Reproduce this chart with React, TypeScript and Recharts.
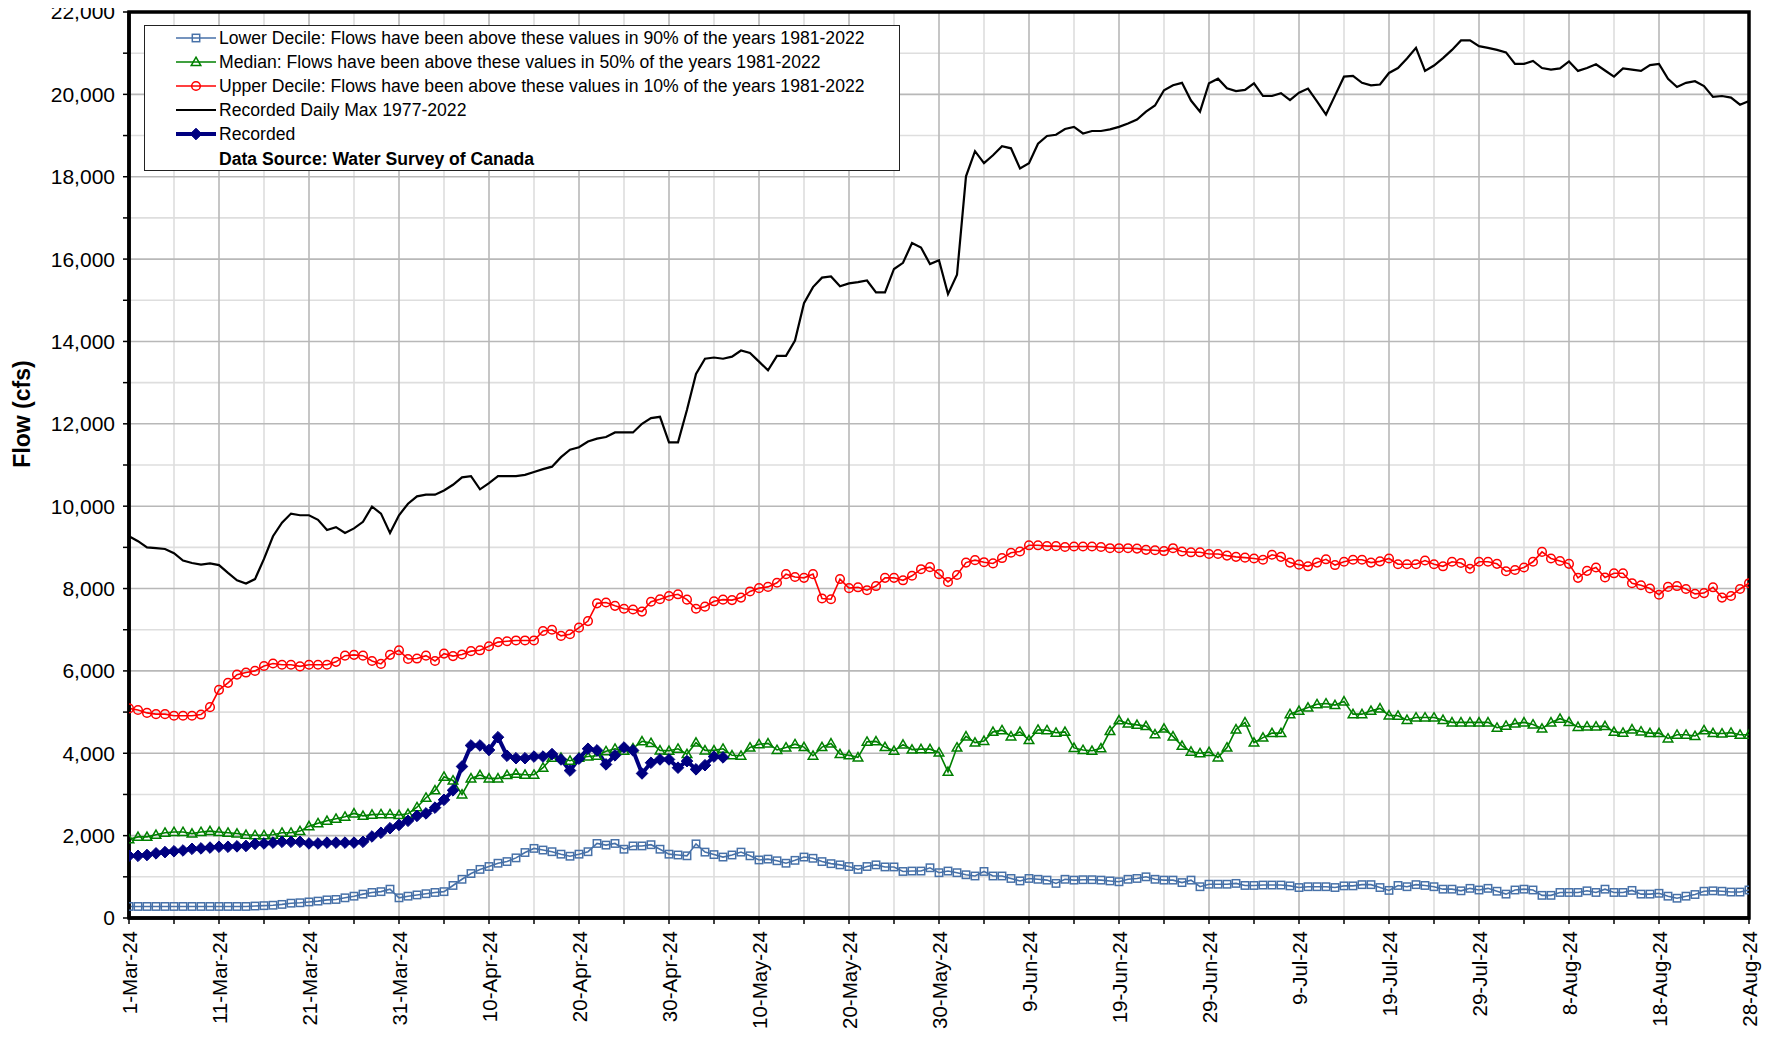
import React from 'react';
import { LineChart, Line, XAxis, YAxis, CartesianGrid, ReferenceArea, Legend } from 'recharts';

const FONT = '"Liberation Sans", Arial, Helvetica, sans-serif';

// x axis: day index from 1-Mar-24
const tickDays = [0, 5, 10, 15, 20, 25, 30, 35, 40, 45, 50, 55, 60, 65, 70, 75, 80, 85, 90, 95, 100, 105, 110, 115, 120, 125, 130, 135, 140, 145, 150, 155, 160, 165, 170, 175, 180];
const tickLabels = ['1-Mar-24', '11-Mar-24', '21-Mar-24', '31-Mar-24', '10-Apr-24', '20-Apr-24', '30-Apr-24', '10-May-24', '20-May-24', '30-May-24', '9-Jun-24', '19-Jun-24', '29-Jun-24', '9-Jul-24', '19-Jul-24', '29-Jul-24', '8-Aug-24', '18-Aug-24', '28-Aug-24'];
const yTicks = [0, 1000, 2000, 3000, 4000, 5000, 6000, 7000, 8000, 9000, 10000, 11000, 12000, 13000, 14000, 15000, 16000, 17000, 18000, 19000, 20000, 21000, 22000];

const lowerDecile = [
  280, 280, 280, 280, 280, 280, 280, 280, 280, 280,
  280, 280, 280, 280, 290, 300, 310, 330, 360, 370,
  390, 410, 440, 450, 490, 530, 580, 620, 640, 700,
  490, 530, 560, 590, 620, 640, 790, 940, 1080, 1180,
  1250, 1330, 1370, 1460, 1590, 1690, 1650, 1610, 1550, 1500,
  1550, 1610, 1810, 1770, 1810, 1670, 1750, 1750, 1780, 1670,
  1550, 1530, 1510, 1800, 1600, 1540, 1480, 1530, 1600, 1510,
  1410, 1430, 1390, 1330, 1400, 1480, 1450, 1370, 1320, 1290,
  1250, 1180, 1250, 1290, 1240, 1240, 1130, 1140, 1140, 1220,
  1100, 1140, 1100, 1050, 1020, 1130, 1020, 1020, 960, 900,
  960, 940, 920, 840, 940, 920, 930, 930, 920, 900,
  880, 940, 960, 1000, 940, 920, 920, 860, 920, 760,
  820, 820, 820, 840, 790, 790, 800, 800, 800, 780,
  740, 760, 760, 760, 740, 780, 780, 810, 810, 740,
  670, 790, 760, 810, 790, 760, 700, 700, 660, 720,
  680, 720, 650, 580, 680, 700, 680, 550, 550, 620,
  620, 620, 660, 620, 700, 620, 620, 670, 580, 580,
  600, 530, 480, 530, 570, 650, 660, 650, 630, 630,
  680,
];

const median = [
  1910, 1970, 1970, 2020, 2070, 2090, 2090, 2050, 2090, 2110,
  2090, 2070, 2050, 2020, 2010, 2010, 2020, 2070, 2070, 2110,
  2230, 2300, 2360, 2410, 2460, 2540, 2480, 2510, 2520, 2520,
  2500, 2530, 2690, 2920, 3100, 3430, 3340, 3000, 3390, 3470,
  3390, 3390, 3470, 3500, 3480, 3480, 3650, 3890, 3890, 3820,
  3890, 3920, 3940, 4050, 4110, 4060, 4120, 4290, 4250, 4070,
  4060, 4110, 3980, 4260, 4070, 4070, 4110, 3950, 3940, 4140,
  4220, 4240, 4080, 4140, 4220, 4150, 3940, 4150, 4240, 3980,
  3950, 3900, 4280, 4290, 4150, 4060, 4210, 4090, 4100, 4100,
  4020, 3550, 4140, 4410, 4260, 4300, 4520, 4560, 4410, 4520,
  4320, 4570, 4560, 4500, 4520, 4130, 4080, 4060, 4120, 4540,
  4800, 4720, 4690, 4660, 4460, 4600, 4410, 4180, 4040, 4000,
  4030, 3900, 4140, 4580, 4750, 4260, 4380, 4490, 4490, 4950,
  5030, 5110, 5190, 5210, 5170, 5260, 4950, 4950, 5030, 5090,
  4920, 4910, 4810, 4870, 4870, 4870, 4810, 4750, 4750, 4750,
  4750, 4750, 4620, 4670, 4720, 4750, 4700, 4600, 4750, 4840,
  4760, 4640, 4650, 4650, 4660, 4520, 4500, 4580, 4530, 4490,
  4490, 4360, 4450, 4450, 4420, 4560, 4490, 4480, 4500, 4450,
  4450,
];

const upperDecile = [
  5090, 5050, 4980, 4950, 4950, 4910, 4910, 4910, 4940, 5120,
  5540, 5710, 5910, 5960, 6000, 6120, 6180, 6150, 6150, 6110,
  6150, 6150, 6150, 6220, 6370, 6390, 6370, 6240, 6170, 6390,
  6500, 6290, 6300, 6370, 6240, 6420, 6360, 6400, 6480, 6500,
  6600, 6700, 6720, 6740, 6740, 6740, 6970, 7000, 6850, 6890,
  7050, 7210, 7640, 7660, 7580, 7510, 7490, 7440, 7680, 7740,
  7820, 7860, 7730, 7510, 7560, 7690, 7730, 7720, 7780, 7930,
  8010, 8040, 8140, 8350, 8280, 8260, 8350, 7760, 7740, 8230,
  8010, 8030, 7960, 8060, 8260, 8260, 8200, 8310, 8470, 8520,
  8350, 8160, 8330, 8630, 8690, 8640, 8610, 8740, 8870, 8900,
  9050, 9050, 9030, 9030, 9010, 9020, 9020, 9020, 9010, 8980,
  8980, 8980, 8970, 8940, 8930, 8910, 8980, 8900, 8880, 8880,
  8840, 8840, 8800, 8770, 8750, 8730, 8700, 8820, 8770, 8630,
  8580, 8540, 8630, 8710, 8570, 8650, 8700, 8700, 8630, 8660,
  8730, 8590, 8590, 8590, 8680, 8590, 8540, 8650, 8620, 8480,
  8650, 8650, 8600, 8420, 8450, 8510, 8650, 8890, 8730, 8670,
  8600, 8260, 8430, 8510, 8270, 8370, 8370, 8130, 8080, 8000,
  7850, 8040, 8060, 7990, 7870, 7890, 8030, 7780, 7820, 7990,
  8130,
];

const dailyMax = [
  9270, 9150, 9000, 8980, 8960, 8860, 8680, 8620, 8580, 8610,
  8570, 8380, 8200, 8120, 8230, 8720, 9270, 9600, 9820, 9780,
  9780, 9670, 9420, 9490, 9350, 9460, 9620, 9990, 9820, 9350,
  9780, 10060, 10240, 10280, 10280, 10380, 10520, 10700, 10730, 10410,
  10560, 10730, 10730, 10730, 10760, 10830, 10900, 10960, 11190, 11370,
  11430, 11570, 11640, 11680, 11790, 11790, 11790, 12000, 12140, 12170,
  11550, 11550, 12340, 13210, 13580, 13610, 13580, 13630, 13780, 13720,
  13510, 13300, 13650, 13650, 14020, 14930, 15320, 15550, 15580, 15340,
  15410, 15440, 15480, 15190, 15190, 15760, 15910, 16390, 16280, 15880,
  15970, 15150, 15620, 18010, 18620, 18330, 18520, 18740, 18690, 18200,
  18330, 18800, 18990, 19020, 19160, 19210, 19050, 19110, 19110, 19150,
  19210, 19290, 19390, 19580, 19730, 20100, 20220, 20280, 19850, 19580,
  20270, 20380, 20150, 20080, 20110, 20270, 19960, 19960, 20030, 19860,
  20040, 20140, 19830, 19510, 19970, 20430, 20450, 20280, 20220, 20240,
  20520, 20640, 20870, 21130, 20570, 20700, 20880, 21080, 21310, 21310,
  21170, 21130, 21080, 21020, 20740, 20740, 20810, 20640, 20600, 20630,
  20800, 20570, 20640, 20730, 20580, 20430, 20630, 20600, 20570, 20710,
  20740, 20380, 20180, 20280, 20320, 20200, 19940, 19960, 19920, 19750,
  19840,
];

const recorded = [
  1510, 1510, 1530, 1570, 1600, 1620, 1640, 1680, 1690, 1710,
  1730, 1730, 1740, 1750, 1800, 1810, 1830, 1850, 1850, 1850,
  1810, 1810, 1830, 1830, 1830, 1830, 1850, 1980, 2070, 2180,
  2260, 2360, 2480, 2540, 2680, 2870, 3100, 3680, 4190, 4190,
  4080, 4390, 3940, 3880, 3880, 3920, 3920, 3980, 3850, 3580,
  3870, 4110, 4070, 3730, 3950, 4140, 4070, 3510, 3770, 3850,
  3850, 3650, 3810, 3610, 3710, 3920, 3900,
];

const data = lowerDecile.map((v, i) => ({
  day: i,
  lower: v,
  median: median[i],
  upper: upperDecile[i],
  max: dailyMax[i],
  recorded: i < recorded.length ? recorded[i] : null,
}));

const lightX = tickDays.filter((d) => d % 10 === 5);
const darkX = tickDays.filter((d) => d % 10 === 0 && d > 0 && d < 180);
const lightY = yTicks.filter((v) => v % 2000 === 1000);
const darkY = yTicks.filter((v) => v % 2000 === 0 && v > 0 && v < 22000);

const C_LOWER = '#4771A8';
const C_MEDIAN = '#008000';
const C_UPPER = '#FF0000';
const C_MAX = '#000000';
const C_REC = '#000080';

const squareShape = (cx: number, cy: number, key?: any) => (
  <rect key={key} x={cx - 3.7} y={cy - 3.7} width={7.4} height={7.4} fill="none" stroke={C_LOWER} strokeWidth={1.5} />
);
const triShape = (cx: number, cy: number, key?: any) => (
  <polygon key={key} points={`${cx},${cy - 4.8} ${cx + 4.8},${cy + 3.5} ${cx - 4.8},${cy + 3.5}`} fill="none" stroke={C_MEDIAN} strokeWidth={1.5} />
);
const circShape = (cx: number, cy: number, key?: any) => (
  <circle key={key} cx={cx} cy={cy} r={4.3} fill="none" stroke={C_UPPER} strokeWidth={1.5} />
);
const diaShape = (cx: number, cy: number, key?: any) => (
  <polygon key={key} points={`${cx},${cy - 5.8} ${cx + 5.8},${cy} ${cx},${cy + 5.8} ${cx - 5.8},${cy}`} fill={C_REC} stroke={C_REC} strokeWidth={1} />
);

const mkDot = (shape: (cx: number, cy: number, key?: any) => any) => (props: any) => {
  const { cx, cy, index } = props;
  if (cx == null || cy == null || props.value == null) return <g key={`e-${index}`} />;
  return shape(cx, cy, `d-${index}`);
};

const legendItems = [
  { label: 'Lower Decile: Flows have been above these values in 90% of the years 1981-2022', color: C_LOWER, w: 1.5, shape: squareShape },
  { label: 'Median: Flows have been above these values in 50% of the years 1981-2022', color: C_MEDIAN, w: 1.5, shape: triShape },
  { label: 'Upper Decile: Flows have been above these values in 10% of the years 1981-2022', color: C_UPPER, w: 1.5, shape: circShape },
  { label: 'Recorded Daily Max 1977-2022', color: C_MAX, w: 2.2, shape: null },
  { label: 'Recorded', color: C_REC, w: 4, shape: diaShape },
];

const renderLegend = () => (
  <div
    style={{
      width: 756,
      height: 146,
      boxSizing: 'border-box',
      border: '1px solid #222',
      background: '#fff',
      position: 'relative',
      fontFamily: FONT,
      fontSize: 17.6,
      color: '#000',
    }}
  >
    {legendItems.map((it, i) => (
      <div key={i} style={{ position: 'absolute', left: 0, top: -0.5 + i * 24.2, height: 24, display: 'flex', alignItems: 'center', whiteSpace: 'nowrap' }}>
        <svg width={72} height={24} style={{ display: 'block' }}>
          <line x1={31} x2={71} y1={12} y2={12} stroke={it.color} strokeWidth={it.w} />
          {it.shape ? it.shape(51, 12) : null}
        </svg>
        <span style={{ marginLeft: 2, lineHeight: '24px' }}>{it.label}</span>
      </div>
    ))}
    <div style={{ position: 'absolute', left: 74, top: -0.5 + 5 * 24.2, height: 24, lineHeight: '24px', fontWeight: 'bold', whiteSpace: 'nowrap' }}>
      Data Source: Water Survey of Canada
    </div>
  </div>
);

const XTick = (props: any) => {
  const { x, y, payload } = props;
  const v = payload.value;
  if (v % 10 !== 0) return <g />;
  const ty = y + 5;
  return (
    <text x={x} y={ty} transform={`rotate(-90 ${x} ${ty})`} textAnchor="end" dominantBaseline="central" fontSize={20.5} fontFamily={FONT} fill="#000">
      {tickLabels[v / 10]}
    </text>
  );
};

const renderYLabel = () => (
  <text x={22} y={414} transform="rotate(-90 22 414)" textAnchor="middle" dominantBaseline="central" fontWeight="bold" fontSize={23} fontFamily={FONT} fill="#000">
    Flow (cfs)
  </text>
);

export default function App() {
  return (
    <div style={{ width: 1773, height: 1038, background: '#fff', marginTop: -8, marginLeft: -8 }}>
      <LineChart width={1773} height={1038} data={data} margin={{ top: 12, right: 24, left: 0, bottom: 0 }}>
        <CartesianGrid horizontalValues={lightY} verticalValues={lightX} stroke="#dedede" strokeWidth={1.6} />
        <CartesianGrid horizontalValues={darkY} verticalValues={darkX} stroke="#b8b8b8" strokeWidth={1.6} />
        <XAxis
          dataKey="day"
          type="number"
          domain={[0, 180]}
          ticks={tickDays}
          interval={0}
          height={120}
          tickSize={6}
          tick={<XTick />}
          axisLine={{ stroke: '#000', strokeWidth: 3.5 }}
          tickLine={{ stroke: '#000', strokeWidth: 1.5 }}
          allowDataOverflow
        />
        <YAxis
          type="number"
          domain={[0, 22000]}
          ticks={yTicks}
          interval={0}
          width={129}
          tickSize={6}
          tickMargin={8}
          tickFormatter={(v: number) => (v % 2000 === 0 ? v.toLocaleString('en-US') : '')}
          tick={{ fill: '#000', fontSize: 21, fontFamily: FONT }}
          axisLine={{ stroke: '#000', strokeWidth: 3.5 }}
          tickLine={{ stroke: '#000', strokeWidth: 1.5 }}
          label={renderYLabel}
          allowDataOverflow
        />
        <Legend
          layout="vertical"
          align="center"
          verticalAlign="middle"
          content={renderLegend}
          wrapperStyle={{ left: 144, top: 25, width: 756, height: 146 }}
        />
        <Line type="linear" dataKey="lower" name="Lower Decile" stroke={C_LOWER} strokeWidth={1.6} dot={mkDot(squareShape)} activeDot={false} isAnimationActive={false} />
        <Line type="linear" dataKey="median" name="Median" stroke={C_MEDIAN} strokeWidth={1.6} dot={mkDot(triShape)} activeDot={false} isAnimationActive={false} />
        <Line type="linear" dataKey="upper" name="Upper Decile" stroke={C_UPPER} strokeWidth={1.6} dot={mkDot(circShape)} activeDot={false} isAnimationActive={false} />
        <Line type="linear" dataKey="max" name="Recorded Daily Max 1977-2022" stroke={C_MAX} strokeWidth={2.2} dot={false} activeDot={false} isAnimationActive={false} />
        <Line type="linear" dataKey="recorded" name="Recorded" stroke={C_REC} strokeWidth={4} dot={mkDot(diaShape)} activeDot={false} connectNulls={false} isAnimationActive={false} />
        <ReferenceArea x1={0} x2={180} y1={0} y2={22000} fill="none" fillOpacity={0} stroke="#000" strokeWidth={3.5} ifOverflow="visible" />
      </LineChart>
    </div>
  );
}
